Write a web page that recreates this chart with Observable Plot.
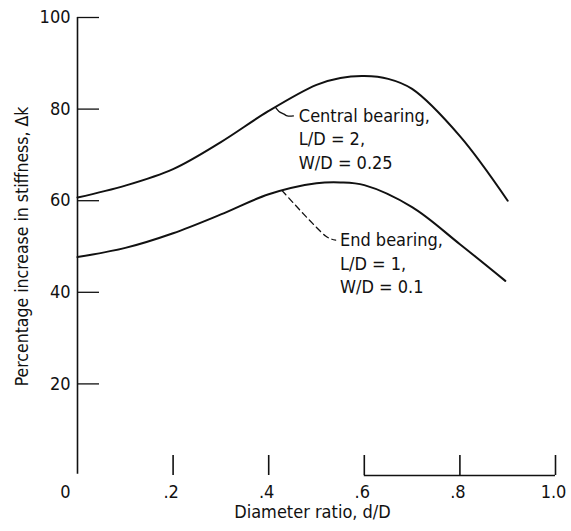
<!DOCTYPE html>
<html><head><meta charset="utf-8">
<script src="https://cdn.jsdelivr.net/npm/d3@7"></script>
<script src="https://cdn.jsdelivr.net/npm/@observablehq/plot@0.6"></script>
<style>body{margin:0;background:#fff} svg{display:block}</style>
</head><body><div id="chart"></div>
<script>
// Diameter ratio d/D samples
const centralRatio = [0, 0.1, 0.2, 0.3, 0.4, 0.5, 0.55, 0.6, 0.65, 0.7, 0.8, 0.9];
const centralStiff = [60.7, 63.3, 66.9, 72.8, 79.6, 85.3, 86.8, 87.2, 86.6, 84.4, 74.1, 60.0];
const endRatio = [0, 0.1, 0.2, 0.3, 0.4, 0.5, 0.55, 0.6, 0.7, 0.8, 0.895];
const endStiff = [47.7, 49.7, 52.9, 57.0, 61.4, 63.8, 64.0, 63.4, 58.6, 50.5, 42.5];

const xTicks = [0, 0.2, 0.4, 0.6, 0.8, 1.0];
const xTickLabels = ["0", ".2", ".4", ".6", ".8", "1.0"];
const yTicks = [20, 40, 60, 80, 100];
const baselineSpan = [0.6, 1.0];

// annotation leaders (d/D, Δk)
const centralLeaderX = [0.4146, 0.4215, 0.432, 0.439, 0.4516];
const centralLeaderY = [80.3, 79.5, 78.9, 78.5, 78.5];
const endLeaderX = [0.428, 0.519, 0.5317, 0.540];
const endLeaderY = [62.2, 52.3, 51.6, 51.4];

const centralLabel = ["Central bearing,", "L/D = 2,", "W/D = 0.25"];
const endLabel = ["End bearing,", "L/D = 1,", "W/D = 0.1"];
const centralLabelPos = [0.463, 80.2];
const endLabelPos = [0.549, 53.0];

const xTitle = "Diameter ratio, d/D";
const yTitle = "Percentage increase in stiffness, Δk";

const central = centralRatio.map((r, i) => ({r, v: centralStiff[i]}));
const endB = endRatio.map((r, i) => ({r, v: endStiff[i]}));
const cLead = centralLeaderX.map((r, i) => ({r, v: centralLeaderY[i]}));
const eLead = endLeaderX.map((r, i) => ({r, v: endLeaderY[i]}));

const FONT = "'DejaVu Sans Condensed', 'DejaVu Sans', 'Liberation Sans Narrow', sans-serif";

const W = 571, H = 531, ML = 77, MR = 16, MT = 17, MB = 56;
const frameW = W - ML - MR, frameH = H - MT - MB;

const chart = Plot.plot({
  width: W, height: H,
  marginLeft: ML, marginRight: MR, marginTop: MT, marginBottom: MB,
  style: {fontFamily: FONT, background: "#fff", color: "#111"},
  x: {domain: [0, 1], axis: null},
  y: {domain: [0, 100], axis: null},
  marks: [
    Plot.ruleX([0], {y1: 0.3, y2: 100, strokeWidth: 1.6, stroke: "#111"}),
    Plot.tickY(yTicks, {y: d => d, insetRight: frameW - 22, strokeWidth: 1.3, stroke: "#111"}),
    Plot.tickX(xTicks.slice(1), {x: d => d, insetTop: frameH - 20, strokeWidth: 1.6, stroke: "#111"}),
    Plot.ruleY([0], {x1: baselineSpan[0], x2: baselineSpan[1], strokeWidth: 1.3, stroke: "#111"}),
    Plot.text(yTicks, {x: 0, y: d => d, text: d => String(d), textAnchor: "end", dx: -7, fontSize: 18, fill: "#111"}),
    Plot.text(xTicks.slice(0, 1), {x: d => d, y: 0, text: (d, i) => xTickLabels[i], dy: 17, dx: -12, fontSize: 18, fill: "#111"}),
    Plot.text(xTicks.slice(1), {x: d => d, y: 0, text: (d, i) => xTickLabels[i + 1], dy: 17, dx: -2, fontSize: 18, fill: "#111"}),
    Plot.line(central, {x: "r", y: "v", curve: "catmull-rom", strokeWidth: 2, stroke: "#111"}),
    Plot.line(endB, {x: "r", y: "v", curve: "catmull-rom", strokeWidth: 2, stroke: "#111"}),
    Plot.line(cLead, {x: "r", y: "v", curve: "catmull-rom", strokeWidth: 1.3, stroke: "#111"}),
    Plot.line(eLead, {x: "r", y: "v", curve: "catmull-rom", strokeWidth: 1.3, stroke: "#111", strokeDasharray: "6,4"}),
    Plot.text([centralLabel.join("\n")], {x: centralLabelPos[0], y: centralLabelPos[1], textAnchor: "start", lineAnchor: "top", lineHeight: 1.3, fontSize: 18, fill: "#111", dy: -3}),
    Plot.text([endLabel.join("\n")], {x: endLabelPos[0], y: endLabelPos[1], textAnchor: "start", lineAnchor: "top", lineHeight: 1.3, fontSize: 18, fill: "#111", dy: -3}),
    Plot.text([xTitle], {frameAnchor: "bottom", dy: 42, dx: -4, fontSize: 18, fill: "#111"}),
    Plot.text([yTitle], {frameAnchor: "left", textAnchor: "middle", rotate: -90, dx: -55, fontSize: 17.5, fill: "#111"})
  ]
});
document.getElementById("chart").appendChild(chart);
</script>
</body></html>
